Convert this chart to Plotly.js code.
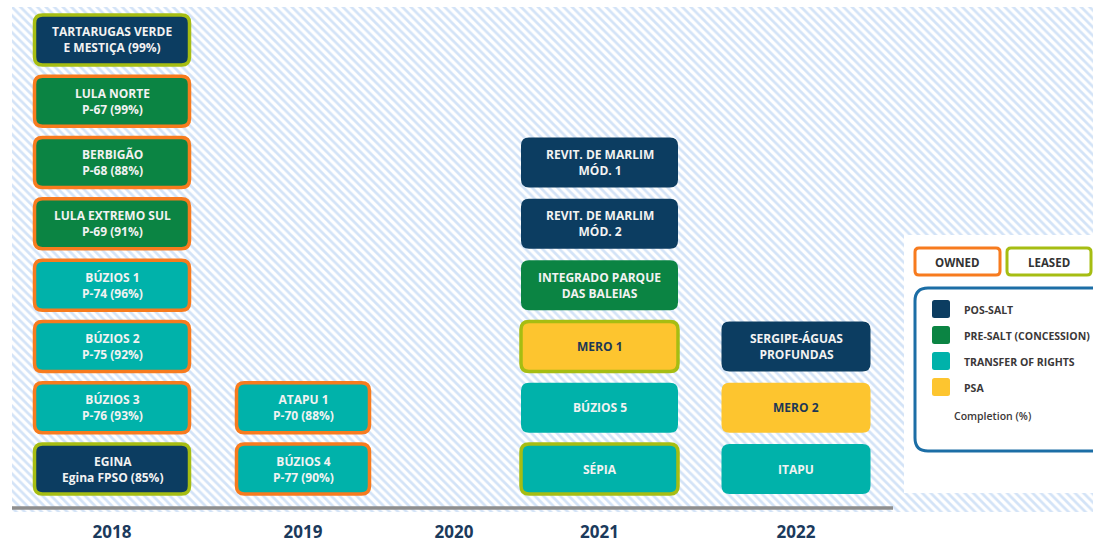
<!DOCTYPE html>
<html>
<head>
<meta charset="utf-8">
<script src="https://cdn.plot.ly/plotly-3.0.1.min.js"></script>
<style>html,body{margin:0;padding:0;background:#fff;}#chart{width:1093px;height:543px;}</style>
</head>
<body>
<div id="chart"></div>
<script>
// ---------- DATA ----------
const years = ['2018', '2019', '2020', '2021', '2022'];
// projects listed bottom-to-top within each year
const projYear = ['2018','2018','2018','2018','2018','2018','2018','2018',
                  '2019','2019',
                  '2021','2021','2021','2021','2021','2021',
                  '2022','2022','2022'];
const projName = ['EGINA','BÚZIOS 3','BÚZIOS 2','BÚZIOS 1','LULA EXTREMO SUL','BERBIGÃO','LULA NORTE','TARTARUGAS VERDE',
                  'BÚZIOS 4','ATAPU 1',
                  'SÉPIA','BÚZIOS 5','MERO 1','INTEGRADO PARQUE','REVIT. DE MARLIM','REVIT. DE MARLIM',
                  'ITAPU','MERO 2','SERGIPE-ÁGUAS'];
const projSub = ['Egina FPSO','P-76','P-75','P-74','P-69','P-68','P-67','E MESTIÇA',
                 'P-77','P-70',
                 '','','','DAS BALEIAS','MÓD. 2','MÓD. 1',
                 '','','PROFUNDAS'];
const projCompletion = [85,93,92,96,91,88,99,99,
                        90,88,
                        null,null,null,null,null,null,
                        null,null,null];
const projSegment = ['POS','TOR','TOR','TOR','PRE','PRE','PRE','POS',
                     'TOR','TOR',
                     'TOR','TOR','PSA','PRE','POS','POS',
                     'TOR','PSA','POS'];
const projContract = ['leased','owned','owned','owned','owned','owned','owned','leased',
                      'owned','owned',
                      'leased','','leased','','','',
                      '','',''];
const segmentKeys = ['POS','PRE','TOR','PSA'];
const segmentLabels = ['POS-SALT','PRE-SALT (CONCESSION)','TRANSFER OF RIGHTS','PSA'];
const contractKeys = ['owned','leased'];
const contractLabels = ['OWNED','LEASED'];

// ---------- STYLE / LAYOUT CONSTANTS ----------
const segColor = {POS:'#0c3d61', PRE:'#0b8443', TOR:'#00b2aa', PSA:'#fdc52f'};
const segText = {POS:'#f2f2f2', PRE:'#f2f2f2', TOR:'#f2f2f2', PSA:'#1d3855'};
const contractColor = {owned:'#f77b1e', leased:'#a6bd12'};
const colCenter = {'2018':112, '2019':303, '2020':454, '2021':599.5, '2022':796};
const colWidth = {'2018':155, '2019':133, '2020':0, '2021':157, '2022':149};
const SLOT_PX = 61.3;          // pixels per stack slot
const BOX_H = 50 / SLOT_PX;    // box height in slot units
const RAD_X = 8, RAD_Y = 8 / SLOT_PX;
const FONT = 'Open Sans, Liberation Sans, sans-serif';
const PLOT_TOP = 7, PLOT_BOTTOM = 512;
function py(p) { return (PLOT_BOTTOM - p) / (PLOT_BOTTOM - PLOT_TOP); } // pixel row -> paper y

function roundRect(x0, x1, y0, y1, rx, ry) {
  return `M${x0+rx},${y0} L${x1-rx},${y0} Q${x1},${y0} ${x1},${y0+ry} L${x1},${y1-ry} Q${x1},${y1} ${x1-rx},${y1} ` +
         `L${x0+rx},${y1} Q${x0},${y1} ${x0},${y1-ry} L${x0},${y0+ry} Q${x0},${y0} ${x0+rx},${y0} Z`;
}

const shapes = [];
const annotations = [];

// project boxes
const slotCount = {};
projName.forEach((name, i) => {
  const yr = projYear[i];
  const slot = slotCount[yr] || 0;
  slotCount[yr] = slot + 1;
  const cx = colCenter[yr], w = colWidth[yr];
  const x0 = cx - w / 2, x1 = cx + w / 2;
  const y0 = slot - BOX_H / 2, y1 = slot + BOX_H / 2;
  const c = projContract[i];
  shapes.push({
    type: 'path', xref: 'x', yref: 'y', layer: 'above',
    path: roundRect(x0, x1, y0, y1, RAD_X, RAD_Y),
    fillcolor: segColor[projSegment[i]],
    line: c ? {color: contractColor[c], width: 3.5} : {width: 0, color: 'rgba(0,0,0,0)'}
  });
  let second = projSub[i];
  if (projCompletion[i] !== null) second += ` (${projCompletion[i]}%)`;
  const txt = second ? `${name}<br>${second}` : name;
  annotations.push({
    x: cx, y: slot, xref: 'x', yref: 'y', text: txt, showarrow: false,
    xanchor: 'center', yanchor: 'middle',
    font: {family: FONT, size: 12, color: segText[projSegment[i]], weight: 'bold'},
    align: 'center'
  });
});

// axis baseline
shapes.push({type: 'line', xref: 'x', yref: 'paper', x0: 12, x1: 893, y0: py(508), y1: py(508),
  line: {color: '#8e8e8e', width: 3.5}, layer: 'above'});

// legend panel
shapes.push({type: 'rect', xref: 'x', yref: 'paper', x0: 904, x1: 1093, y0: py(493), y1: py(235),
  fillcolor: '#ffffff', line: {width: 0}, layer: 'above'});
const contractBoxX = [[915, 1000], [1007, 1091]];
contractKeys.forEach((k, j) => {
  const [a, b] = contractBoxX[j];
  shapes.push({type: 'path', xref: 'x', yref: 'paper', layer: 'above',
    path: roundRect(a, b, py(275), py(248), 4, 4 / 505),
    fillcolor: '#ffffff', line: {color: contractColor[k], width: 3}});
  annotations.push({x: (a + b) / 2, y: py(262), xref: 'x', yref: 'paper', text: contractLabels[j],
    showarrow: false, xanchor: 'center', yanchor: 'middle',
    font: {family: FONT, size: 11.5, color: '#333333', weight: 'bold'}});
});
shapes.push({type: 'path', xref: 'x', yref: 'paper', layer: 'above',
  path: roundRect(915, 1110, py(451), py(288), 13, 13 / 505),
  fillcolor: '#ffffff', line: {color: '#1c6ea6', width: 3}});
const legendRowY = [309, 335, 361, 387];
segmentKeys.forEach((k, j) => {
  const yc = legendRowY[j];
  shapes.push({type: 'path', xref: 'x', yref: 'paper', layer: 'above',
    path: roundRect(932, 950, py(yc + 9), py(yc - 9), 2.5, 2.5 / 505),
    fillcolor: segColor[k], line: {width: 0, color: 'rgba(0,0,0,0)'}});
  annotations.push({x: 962, y: py(yc + 1), xref: 'x', yref: 'paper', text: segmentLabels[j],
    showarrow: false, xanchor: 'left', yanchor: 'middle',
    font: {family: FONT, size: 10.5, color: '#3b3838', weight: 'bold'}});
});
annotations.push({x: 952, y: py(416), xref: 'x', yref: 'paper', text: 'Completion (%)',
  showarrow: false, xanchor: 'left', yanchor: 'middle',
  font: {family: FONT, size: 10.5, color: '#3b3838', weight: 600}});

// hatched background trace spanning whole plot area
const X_RANGE = [12, 1093];
const Y_RANGE = [-(PLOT_BOTTOM - 469) / SLOT_PX, 7 + (40 - PLOT_TOP) / SLOT_PX];
const hatch = {
  type: 'scatter', mode: 'none', hoverinfo: 'skip', showlegend: false,
  x: [X_RANGE[0], X_RANGE[1], X_RANGE[1], X_RANGE[0]],
  y: [Y_RANGE[0], Y_RANGE[0], Y_RANGE[1], Y_RANGE[1]],
  fill: 'toself', fillcolor: '#ffffff',
  fillpattern: {shape: '\\', bgcolor: '#ffffff', fgcolor: '#d3e3f7', size: 6, solidity: 0.45}
};

const layout = {
  width: 1093, height: 543,
  margin: {l: 12, r: 0, t: PLOT_TOP, b: 543 - PLOT_BOTTOM, pad: 0},
  paper_bgcolor: '#ffffff', plot_bgcolor: '#ffffff',
  showlegend: false,
  xaxis: {range: X_RANGE, showgrid: false, zeroline: false, showline: false, fixedrange: true,
    tickmode: 'array', tickvals: years.map(y => colCenter[y]), ticktext: years,
    ticks: 'outside', ticklen: 5, tickcolor: 'rgba(0,0,0,0)',
    tickfont: {family: FONT, size: 17, color: '#1b3a5c', weight: 'bold'}},
  yaxis: {range: Y_RANGE, visible: false, fixedrange: true},
  shapes: shapes,
  annotations: annotations
};

Plotly.newPlot('chart', [hatch], layout, {displayModeBar: false, staticPlot: true});
</script>
</body>
</html>
